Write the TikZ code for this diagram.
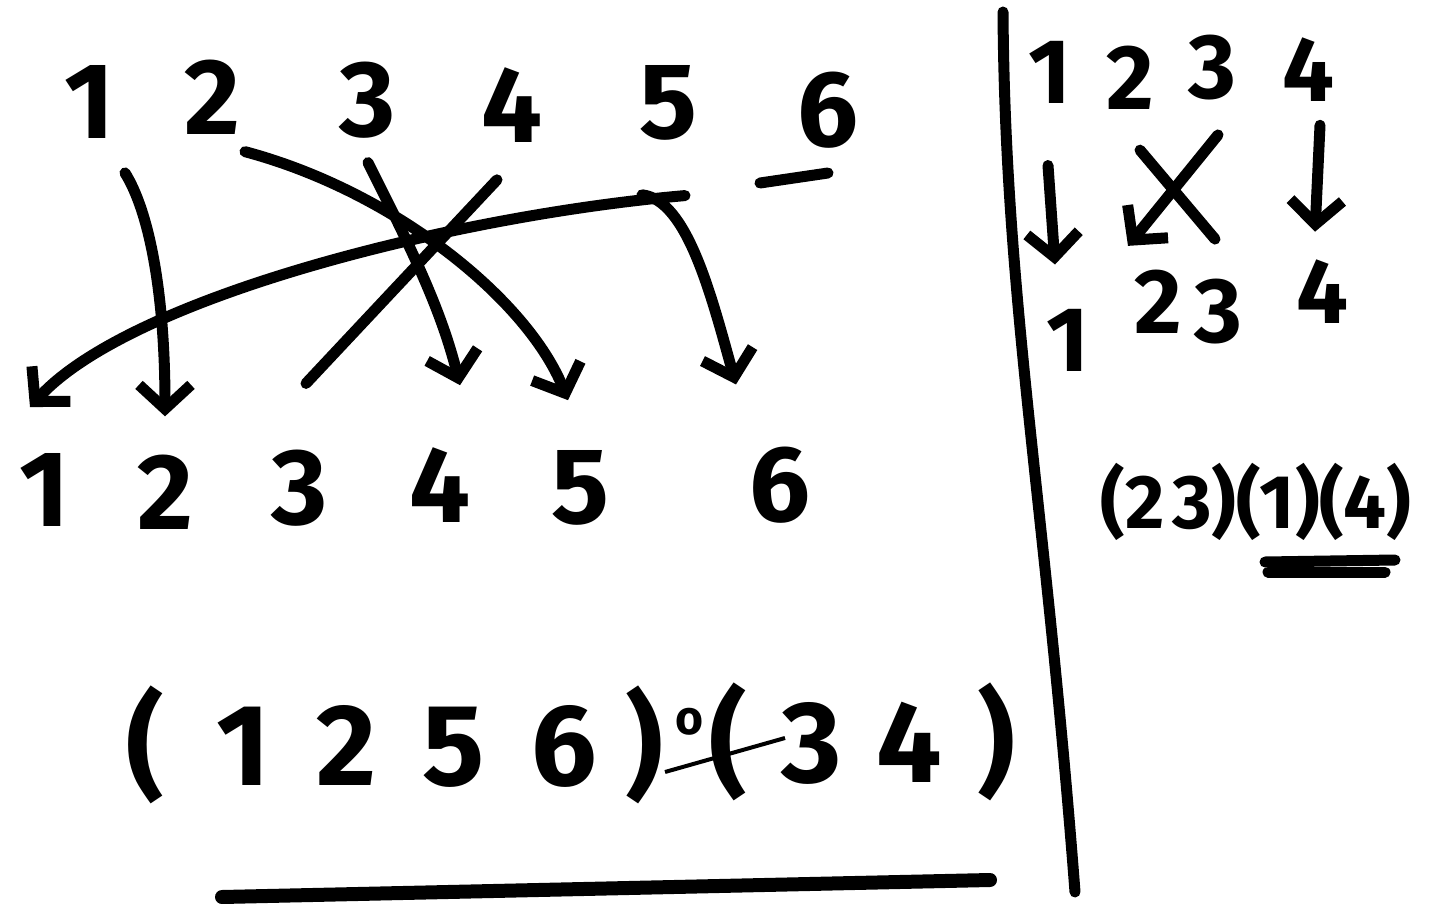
\documentclass[tikz,border=0pt]{standalone}
\usepackage{fontspec}
\setmainfont{Fira Sans}
\usetikzlibrary{arrows.meta}

\begin{document}
\begin{tikzpicture}[x=0.5pt,y=-0.5pt,
  every node/.style={font=\bfseries\fontsize{54}{58}\selectfont,inner sep=0pt},
  pen/.style={line width=5.5pt,line cap=round,line join=round},
  hand/.style={pen,-{Straight Barb[length=12pt,width=26pt,line width=5.5pt]}},
  rhs/.style={font=\bfseries\fontsize{46}{50}\selectfont},
  cyc/.style={font=\bfseries\fontsize{58}{62}\selectfont}]
  \useasboundingbox (0,0) rectangle (1435,904);
  % left: top row
  \node (t1) at (90,102) {1};
  \node (t2) at (212,97) {2};
  \node (t3) at (368,100) {3};
  \node (t4) at (512,105) {4};
  \node (t5) at (668,103) {5};
  \node (t6) at (828,110) {6};
  % left: bottom row
  \node (b1) at (45,490) {1};
  \node (b2) at (165,492) {2};
  \node (b3) at (300,488) {3};
  \node (b4) at (440,485) {4};
  \node (b5) at (580,488) {5};
  \node (b6) at (780,485) {6};
  \draw[hand] (t1.south) ++(35,34) .. controls +(25,40) and +(0,-120) .. ([yshift=19pt]b2.north);
  \draw[hand] (t2.south) ++(33,17) .. controls +(150,40) and +(-40,-100) .. ([xshift=-6pt,yshift=25pt]b5.north);
  \draw[hand] (t3.south) ++(0,24) .. controls +(40,80) and +(-20,-80) .. ([xshift=10pt,yshift=31pt]b4.north);
  \draw[pen] (t4.south) ++(-15,37) -- ([xshift=3pt,yshift=33pt]b3.north);
  \draw[hand] (t5.south) ++(-26,54) .. controls +(45,5) and +(-25,-90) .. ([xshift=-22pt,yshift=31pt]b6.north);
  \draw[hand] (t6.south) ++(-143,47) .. controls +(-230,20) and +(100,-110) .. ([xshift=-7.5pt,yshift=23pt]b1.north);
  \draw[pen] (760,183) -- (828,173);
  % cycles
  \node[cyc] (c1) at (395,745) {(\hspace{0.45em}1\hspace{0.4em}2\hspace{0.4em}5\hspace{0.4em}6\hspace{0.25em})};
  \node[font=\bfseries\fontsize{24}{26}\selectfont] (x) at (690,722) {o};
  \draw[line width=2pt] (665,772) -- (785,738);
  \node[cyc] (c2) at (862,742) {(\hspace{0.3em}3\hspace{0.3em}4\hspace{0.3em})};
  \draw[line width=7pt,line cap=round] (222,897) -- (990,880);
  % divider
  \draw[pen] (1003,12) .. controls (1005,300) and (1045,500) .. (1075,892);
  % right: top row
  \node[rhs] (p1) at (1050,72) {1};
  \node[rhs] (p2) at (1130,78) {2};
  \node[rhs] (p3) at (1212,68) {3};
  \node[rhs] (p4) at (1308,70) {4};
  % right: bottom row
  \node[rhs] (q1) at (1068,340) {1};
  \node[rhs] (q2) at (1158,302) {2};
  \node[rhs] (q3) at (1218,312) {3};
  \node[rhs] (q4) at (1322,292) {4};
  \draw[hand] (p1.south) ++(-2,62) -- ([xshift=-6.5pt,yshift=22pt]q1.north);
  \draw[hand] (p3.south) ++(6,34) -- ([xshift=-15pt,yshift=12pt]q2.north);
  \draw[pen] (p2.south) ++(10,40) -- ([xshift=-1.5pt,yshift=20pt]q3.north);
  \draw[hand] (p4.south) ++(12,23) -- ([xshift=-3.5pt,yshift=14pt]q4.north);
  \node[font=\bfseries\fontsize{38}{42}\selectfont] (c3) at (1256,502) {(2\hspace{0.1em}3)(1)(4)};
  \draw[pen] (1265,562) -- (1395,560);
  \draw[pen] (1268,572) -- (1385,572);
\end{tikzpicture}
\end{document}
